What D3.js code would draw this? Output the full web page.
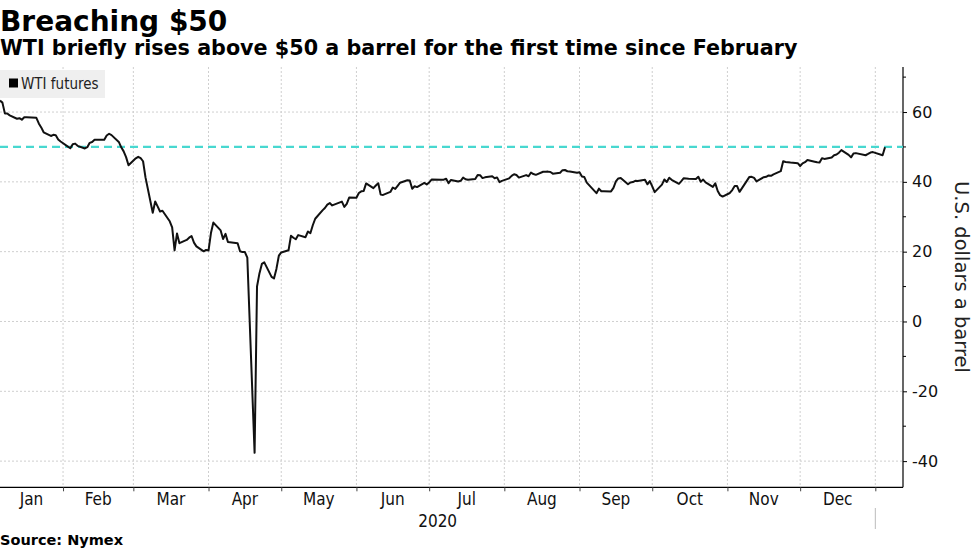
<!DOCTYPE html>
<html>
<head>
<meta charset="utf-8">
<script src="https://cdn.jsdelivr.net/npm/d3@7"></script>
<style>
    body { margin: 0; background: #fff; }
    svg { display: block; }
</style>
</head>
<body>
<div id="chart"></div>
<script>
// WTI front-month closes, one per trading day
const tradeDays = [
    "2020-01-06","2020-01-07","2020-01-08","2020-01-09","2020-01-10","2020-01-13","2020-01-14","2020-01-15","2020-01-16","2020-01-17",
    "2020-01-21","2020-01-22","2020-01-23","2020-01-24","2020-01-27","2020-01-28","2020-01-29","2020-01-30","2020-01-31",
    "2020-02-03","2020-02-04","2020-02-05","2020-02-06","2020-02-07","2020-02-10","2020-02-11","2020-02-12","2020-02-13","2020-02-14",
    "2020-02-18","2020-02-19","2020-02-20","2020-02-21","2020-02-24","2020-02-25","2020-02-26","2020-02-27","2020-02-28",
    "2020-03-02","2020-03-03","2020-03-04","2020-03-05","2020-03-06","2020-03-09","2020-03-10","2020-03-11","2020-03-12","2020-03-13",
    "2020-03-16","2020-03-17","2020-03-18","2020-03-19","2020-03-20","2020-03-23","2020-03-24","2020-03-25","2020-03-26","2020-03-27",
    "2020-03-30","2020-03-31","2020-04-01","2020-04-02","2020-04-03","2020-04-06","2020-04-07","2020-04-08","2020-04-09",
    "2020-04-13","2020-04-14","2020-04-15","2020-04-16","2020-04-17","2020-04-20","2020-04-21","2020-04-22","2020-04-23","2020-04-24",
    "2020-04-27","2020-04-28","2020-04-29","2020-04-30","2020-05-01","2020-05-04","2020-05-05","2020-05-06","2020-05-07","2020-05-08",
    "2020-05-11","2020-05-12","2020-05-13","2020-05-14","2020-05-15","2020-05-18","2020-05-19","2020-05-20","2020-05-21","2020-05-22",
    "2020-05-26","2020-05-27","2020-05-28","2020-05-29","2020-06-01","2020-06-02","2020-06-03","2020-06-04","2020-06-05",
    "2020-06-08","2020-06-09","2020-06-10","2020-06-11","2020-06-12","2020-06-15","2020-06-16","2020-06-17","2020-06-18","2020-06-19",
    "2020-06-22","2020-06-23","2020-06-24","2020-06-25","2020-06-26","2020-06-29","2020-06-30","2020-07-01","2020-07-02",
    "2020-07-06","2020-07-07","2020-07-08","2020-07-09","2020-07-10","2020-07-13","2020-07-14","2020-07-15","2020-07-16","2020-07-17",
    "2020-07-20","2020-07-21","2020-07-22","2020-07-23","2020-07-24","2020-07-27","2020-07-28","2020-07-29","2020-07-30","2020-07-31",
    "2020-08-03","2020-08-04","2020-08-05","2020-08-06","2020-08-07","2020-08-10","2020-08-11","2020-08-12","2020-08-13","2020-08-14",
    "2020-08-17","2020-08-18","2020-08-19","2020-08-20","2020-08-21","2020-08-24","2020-08-25","2020-08-26","2020-08-27","2020-08-28",
    "2020-08-31","2020-09-01","2020-09-02","2020-09-03","2020-09-04","2020-09-08","2020-09-09","2020-09-10","2020-09-11",
    "2020-09-14","2020-09-15","2020-09-16","2020-09-17","2020-09-18","2020-09-21","2020-09-22","2020-09-23","2020-09-24","2020-09-25",
    "2020-09-28","2020-09-29","2020-09-30","2020-10-01","2020-10-02","2020-10-05","2020-10-06","2020-10-07","2020-10-08","2020-10-09",
    "2020-10-12","2020-10-13","2020-10-14","2020-10-15","2020-10-16","2020-10-19","2020-10-20","2020-10-21","2020-10-22","2020-10-23",
    "2020-10-26","2020-10-27","2020-10-28","2020-10-29","2020-10-30","2020-11-02","2020-11-03","2020-11-04","2020-11-05","2020-11-06",
    "2020-11-09","2020-11-10","2020-11-11","2020-11-12","2020-11-13","2020-11-16","2020-11-17","2020-11-18","2020-11-19","2020-11-20",
    "2020-11-23","2020-11-24","2020-11-25","2020-11-27","2020-11-30","2020-12-01","2020-12-02","2020-12-03","2020-12-04",
    "2020-12-07","2020-12-08","2020-12-09","2020-12-10","2020-12-11","2020-12-14","2020-12-15","2020-12-16","2020-12-17","2020-12-18",
    "2020-12-21","2020-12-22","2020-12-23","2020-12-24","2020-12-28","2020-12-29","2020-12-30","2020-12-31",
    "2021-01-04","2021-01-05"
];

const wtiClose = [
    63.27,62.70,59.61,59.56,59.04,58.08,58.23,57.81,58.52,58.54,
    58.34,56.74,55.59,54.19,53.14,53.48,53.33,52.14,51.56,
    50.11,49.61,50.75,50.95,50.32,49.57,49.94,51.17,51.42,52.05,
    52.05,53.29,53.78,53.38,51.43,49.90,48.73,47.09,44.76,
    46.75,47.18,46.78,45.90,41.28,31.13,34.36,32.98,31.50,31.73,
    28.70,26.95,20.37,25.22,22.43,23.36,24.01,24.49,22.60,21.51,
    20.09,20.48,20.31,25.32,28.34,26.08,23.63,25.09,22.76,
    22.41,20.11,19.87,19.87,18.27,-37.63,10.01,13.78,16.50,16.94,
    12.78,12.34,15.06,18.84,19.78,20.39,24.56,23.99,23.55,24.74,
    24.14,25.78,25.29,27.56,29.43,31.82,32.50,33.49,33.92,33.25,
    34.35,32.81,33.71,35.49,35.44,36.81,37.29,37.41,39.55,
    38.19,38.94,39.60,36.34,36.26,37.12,38.38,37.96,38.84,39.75,
    40.46,40.37,38.01,38.72,38.49,39.70,39.27,39.82,40.65,
    40.63,40.62,40.90,39.62,40.55,40.10,40.29,41.20,40.75,40.59,
    40.81,41.96,41.90,41.07,41.29,41.60,41.04,41.27,39.92,40.27,
    41.01,41.70,42.19,41.95,41.22,41.94,41.61,42.67,42.24,42.01,
    42.89,42.89,42.93,42.82,42.34,42.62,43.35,43.39,43.04,42.97,
    42.61,42.76,41.51,41.37,39.77,36.76,38.05,37.30,37.33,
    37.26,38.28,40.16,40.97,41.11,39.31,39.80,39.93,40.31,40.25,
    40.60,39.29,40.22,38.72,37.05,39.22,40.67,39.95,41.19,40.60,
    39.43,40.20,41.04,40.96,40.88,40.83,41.46,40.03,40.64,39.85,
    38.56,39.57,37.39,36.17,35.79,36.81,37.66,38.79,38.79,37.14,
    40.29,41.36,41.45,41.12,40.13,41.34,41.43,41.82,41.74,42.15,
    43.06,45.91,45.71,45.53,45.34,44.55,45.28,45.64,46.26,
    45.76,45.60,45.52,46.78,46.57,46.99,47.62,47.82,48.36,49.10,
    47.74,47.02,48.12,48.23,47.62,48.00,48.40,48.52,
    47.62,49.93
];

const monthLabels = ["Jan","Feb","Mar","Apr","May","Jun","Jul","Aug","Sep","Oct","Nov","Dec"];
const yearLabel = "2020";
const majorTicks = [-40, -20, 0, 20, 40, 60];
const minorTicks = [-30, -10, 10, 30, 50, 70];
const thresholdValue = 50;

class PriceChart {
    constructor(_parentElement) {
        this.parentElement = _parentElement;
        this.initVis();
    }

    initVis() {
        const vis = this;

        vis.W = 977;
        vis.H = 549;
        vis.PLOT = { LEFT: 0, RIGHT: 903, TOP: 67, BOTTOM: 487.3 };

        vis.svg = d3.select(vis.parentElement).append("svg")
            .attr("width", vis.W)
            .attr("height", vis.H)
            .style("font-family", "'DejaVu Sans', Verdana, sans-serif");

        const parse = d3.utcParse("%Y-%m-%d");
        vis.data = tradeDays.map((d, i) => ({ date: parse(d), value: wtiClose[i] }));

        vis.x = d3.scaleUtc()
            .domain([Date.UTC(2020, 0, 6), Date.UTC(2021, 0, 12, 10)])
            .range([vis.PLOT.LEFT, vis.PLOT.RIGHT]);
        vis.y = d3.scaleLinear()
            .domain([-47.5, 72.9])
            .range([vis.PLOT.BOTTOM, vis.PLOT.TOP]);

        vis.drawText();
        vis.drawGrid();
        vis.drawAxes();
        vis.drawSeries();
    }

    drawText() {
        const vis = this;

        vis.svg.append("text")
            .attr("x", 0).attr("y", 31)
            .attr("font-size", 28).attr("font-weight", "bold")
            .attr("fill", "#000")
            .text("Breaching $50");

        vis.svg.append("text")
            .attr("x", 0).attr("y", 55)
            .attr("font-size", 20.7).attr("font-weight", "bold")
            .attr("fill", "#000")
            .text("WTI briefly rises above $50 a barrel for the first time since February");

        vis.svg.append("text")
            .attr("x", 0).attr("y", 545)
            .attr("font-size", 14.5).attr("font-weight", "bold")
            .attr("fill", "#000")
            .text("Source: Nymex");

        // right axis title
        vis.svg.append("text")
            .attr("transform", "translate(955, 277) rotate(90)")
            .attr("text-anchor", "middle")
            .attr("font-size", 19.5)
            .attr("fill", "#222")
            .text("U.S. dollars a barrel");
    }

    drawGrid() {
        const vis = this;
        const monthStarts = d3.utcMonth.range(Date.UTC(2020, 1, 1), Date.UTC(2021, 0, 2));
        vis.monthStarts = monthStarts;

        vis.svg.append("g").attr("class", "grid-x")
            .selectAll("line")
            .data(monthStarts)
            .join("line")
            .attr("x1", d => vis.x(d)).attr("x2", d => vis.x(d))
            .attr("y1", vis.PLOT.TOP).attr("y2", vis.PLOT.BOTTOM)
            .attr("stroke", "#cfcfcf")
            .attr("stroke-dasharray", "2,2");

        vis.svg.append("g").attr("class", "grid-y")
            .selectAll("line")
            .data(majorTicks)
            .join("line")
            .attr("x1", vis.PLOT.LEFT).attr("x2", vis.PLOT.RIGHT)
            .attr("y1", d => vis.y(d)).attr("y2", d => vis.y(d))
            .attr("stroke", "#cfcfcf")
            .attr("stroke-dasharray", "2,2");

        // legend
        const legend = vis.svg.append("g").attr("class", "legend");
        legend.append("rect")
            .attr("x", 0).attr("y", 70)
            .attr("width", 105).attr("height", 28)
            .attr("fill", "#efefef");
        legend.append("rect")
            .attr("x", 9).attr("y", 78.5)
            .attr("width", 9).attr("height", 9)
            .attr("fill", "#000");
        legend.append("text")
            .attr("x", 21).attr("y", 89)
            .attr("font-size", 15)
            .attr("font-family", "'Liberation Sans Narrow', 'DejaVu Sans Condensed', sans-serif")
            .attr("font-stretch", "condensed")
            .attr("fill", "#222")
            .text("WTI futures");
    }

    drawAxes() {
        const vis = this;
        const narrow = "'Liberation Sans Narrow', 'DejaVu Sans Condensed', sans-serif";

        // Y axis (right), plain hyphen for negatives
        const yAxisCall = d3.axisRight(vis.y)
            .tickValues(majorTicks)
            .tickSize(4)
            .tickPadding(5)
            .tickFormat(d => String(d));
        const yAxis = vis.svg.append("g")
            .attr("class", "y axis")
            .attr("transform", `translate(${vis.PLOT.RIGHT}, 0)`)
            .call(yAxisCall);
        yAxis.select(".domain").attr("stroke", "#000").attr("stroke-width", 1.2)
            .attr("d", `M0,${vis.PLOT.TOP}V${vis.PLOT.BOTTOM}`);
        yAxis.selectAll("text")
            .attr("font-size", 16)
            .attr("font-family", "'DejaVu Sans', sans-serif")
            .attr("fill", "#111");
        yAxis.selectAll(".tick line").attr("stroke", "#000");

        vis.svg.append("g").attr("class", "y minor")
            .selectAll("line")
            .data(minorTicks)
            .join("line")
            .attr("x1", vis.PLOT.RIGHT).attr("x2", vis.PLOT.RIGHT + 3)
            .attr("y1", d => vis.y(d)).attr("y2", d => vis.y(d))
            .attr("stroke", "#000");

        // X axis (bottom)
        const xAxisCall = d3.axisBottom(vis.x)
            .tickValues(vis.monthStarts)
            .tickSize(4)
            .tickFormat("");
        const xAxis = vis.svg.append("g")
            .attr("class", "x axis")
            .attr("transform", `translate(0, ${vis.PLOT.BOTTOM})`)
            .call(xAxisCall);
        xAxis.select(".domain").attr("stroke", "#000").attr("stroke-width", 1.2)
            .attr("d", `M${vis.PLOT.LEFT},0H${vis.PLOT.RIGHT}`);
        xAxis.selectAll(".tick line").attr("stroke", "#444");

        // month labels centred in the visible part of each month
        const months = d3.utcMonth.range(Date.UTC(2020, 0, 1), Date.UTC(2021, 0, 1));
        vis.svg.append("g").attr("class", "month-labels")
            .selectAll("text")
            .data(months)
            .join("text")
            .attr("x", d => {
                const x0 = Math.max(vis.PLOT.LEFT, vis.x(d));
                const x1 = Math.min(vis.PLOT.RIGHT, vis.x(d3.utcMonth.offset(d, 1)));
                return (x0 + x1) / 2;
            })
            .attr("y", 505)
            .attr("text-anchor", "middle")
            .attr("font-size", 17)
            .attr("font-family", narrow)
            .attr("font-stretch", "condensed")
            .attr("fill", "#111")
            .text((d, i) => monthLabels[i]);

        const yStart = vis.x(Date.UTC(2020, 0, 1));
        const yEnd = vis.x(Date.UTC(2021, 0, 1));
        vis.svg.append("text")
            .attr("x", (Math.max(0, yStart) + yEnd) / 2)
            .attr("y", 527)
            .attr("text-anchor", "middle")
            .attr("font-size", 17)
            .attr("font-family", narrow)
            .attr("font-stretch", "condensed")
            .attr("fill", "#111")
            .text(yearLabel);

        // year separator
        vis.svg.append("line")
            .attr("x1", yEnd).attr("x2", yEnd)
            .attr("y1", 508).attr("y2", 529)
            .attr("stroke", "#bbb");
    }

    drawSeries() {
        const vis = this;

        vis.svg.append("line")
            .attr("class", "threshold")
            .attr("x1", vis.PLOT.LEFT).attr("x2", vis.PLOT.RIGHT)
            .attr("y1", vis.y(thresholdValue)).attr("y2", vis.y(thresholdValue))
            .attr("stroke", "#48d8d0")
            .attr("stroke-width", 2.2)
            .attr("stroke-dasharray", "8,5");

        const line = d3.line()
            .x(d => vis.x(d.date))
            .y(d => vis.y(d.value));

        vis.svg.append("path")
            .datum(vis.data)
            .attr("class", "wti")
            .attr("d", line)
            .attr("fill", "none")
            .attr("stroke", "#111")
            .attr("stroke-width", 2)
            .attr("stroke-linejoin", "round");
    }
}

new PriceChart("#chart");
</script>
</body>
</html>
